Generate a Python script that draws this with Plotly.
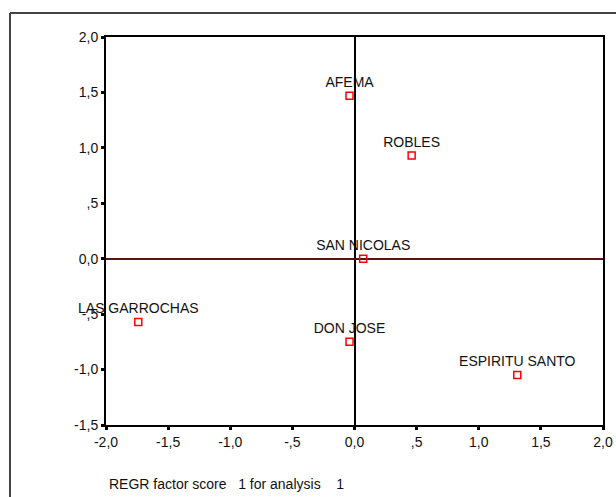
import plotly.graph_objects as go

names = ["AFEMA", "ROBLES", "SAN NICOLAS", "DON JOSE", "LAS GARROCHAS", "ESPIRITU SANTO"]
factor1 = [-0.04, 0.46, 0.07, -0.04, -1.74, 1.31]
factor2 = [1.47, 0.93, 0.00, -0.75, -0.57, -1.05]

xtick_vals = [-2.0, -1.5, -1.0, -0.5, 0.0, 0.5, 1.0, 1.5, 2.0]
xtick_text = ["-2,0", "-1,5", "-1,0", "-,5", "0,0", ",5", "1,0", "1,5", "2,0"]
ytick_vals = [-1.5, -1.0, -0.5, 0.0, 0.5, 1.0, 1.5, 2.0]
ytick_text = ["-1,5", "-1,0", "-,5", "0,0", ",5", "1,0", "1,5", "2,0"]

FONT = "Liberation Sans, Arial, sans-serif"

fig = go.Figure()
fig.add_trace(go.Scatter(
    x=factor1, y=factor2, mode="markers+text",
    text=names, textposition="top center",
    textfont=dict(family=FONT, size=14, color="#111111"),
    marker=dict(symbol="square-open", size=7, color="#ff0000", line=dict(width=1.5, color="#ff0000")),
    showlegend=False, cliponaxis=False,
))

W, H = 616, 497
L, R, T, B = 106, 13, 37, 72
pw, ph = W - L - R, H - T - B

def px(x):
    return (x - L) / pw

def py(y):
    return (H - B - y) / ph

fig.update_layout(
    width=W, height=H, autosize=False,
    margin=dict(l=L, r=R, t=T, b=B, pad=0, autoexpand=False),
    paper_bgcolor="white", plot_bgcolor="white",
    font=dict(family=FONT, size=14, color="#111111"),
    xaxis=dict(range=[-2, 2], tickvals=xtick_vals, ticktext=xtick_text, automargin=False,
               showgrid=False, zeroline=True, zerolinecolor="black", zerolinewidth=1.5,
               showline=True, mirror=True, linecolor="black", linewidth=2,
               ticks="outside", ticklen=3, tickwidth=3, tickcolor="black",
               tickfont=dict(family=FONT, size=14, color="#111111")),
    yaxis=dict(range=[-1.5, 2], tickvals=ytick_vals, ticktext=ytick_text, automargin=False,
               showgrid=False, zeroline=True, zerolinecolor="#5a1212", zerolinewidth=2,
               showline=True, mirror=True, linecolor="black", linewidth=2,
               ticks="outside", ticklen=3, tickwidth=3, tickcolor="black",
               tickfont=dict(family=FONT, size=14, color="#111111")),
    shapes=[
        dict(type="line", xref="paper", yref="paper", x0=px(10), x1=px(10), y0=py(13), y1=py(H + 2),
             line=dict(color="#444444", width=2)),
        dict(type="line", xref="paper", yref="paper", x0=px(10), x1=px(W + 2), y0=py(13), y1=py(13),
             line=dict(color="#444444", width=2)),
    ],
    annotations=[
        dict(text="REGR factor score&nbsp;&nbsp;&nbsp;1 for analysis&nbsp;&nbsp;&nbsp;&nbsp;1",
             xref="paper", yref="paper", x=px(107), y=py(484), xanchor="left", yanchor="middle",
             showarrow=False, font=dict(family=FONT, size=14, color="#111111")),
    ],
)

fig.write_html("out.html", config={"displayModeBar": False, "responsive": False},
               post_script="document.body.style.margin='0';document.body.style.overflow='hidden';")
